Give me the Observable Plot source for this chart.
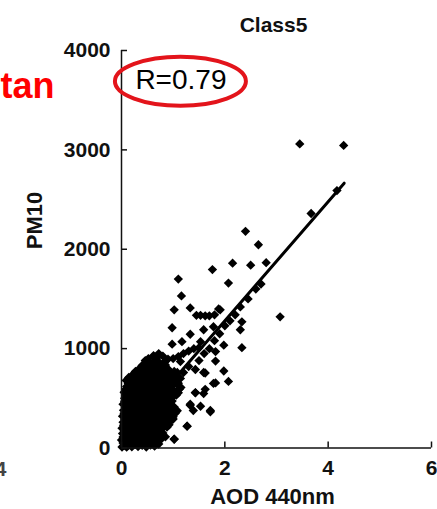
<!DOCTYPE html>
<html><head><meta charset="utf-8">
<script src="https://cdn.jsdelivr.net/npm/d3@7"></script>
<script src="https://cdn.jsdelivr.net/npm/@observablehq/plot@0.6"></script>
<style>body{margin:0;background:#fff}</style>
</head><body><div id="chart"></div>
<script>
const title = "Class5";
const xLabel = "AOD 440nm";
const yLabel = "PM10";
const rText = "R=0.79";
const sideText = "tan";
const sideTick = "4";
const xTicks = [0, 2, 4, 6];
const yTicks = [0, 1000, 2000, 3000, 4000];
const rAnchor = [[1.15, 3700]];
const fitLine = [[0.05, 110], [4.31, 2665]];

const cluster = [
  [0.01,10],[0.05,25],[0.1,8],[0.14,30],[0.2,12],[0.26,35],[0.32,15],[0.4,28],[0.48,10],[0.56,30],[0.64,18],[0.72,40],
  [0.0,80],[0.06,95],[0.12,70],[0.19,90],[0.25,75],[0.33,100],[0.41,80],[0.5,95],[0.58,70],[0.67,100],[0.76,85],[1.02,88],
  [0.02,145],[0.09,130],[0.16,160],[0.23,140],[0.3,155],[0.38,130],[0.46,150],[0.54,140],[0.62,160],[0.71,135],[0.8,150],
  [0.01,200],[0.07,215],[0.14,195],[0.21,220],[0.29,200],[0.36,215],[0.44,190],[0.52,210],[0.61,200],[0.7,220],[0.78,195],[0.88,210],[1.27,220],
  [0.03,260],[0.1,275],[0.17,255],[0.25,280],[0.33,260],[0.4,275],[0.49,255],[0.57,270],[0.66,260],[0.75,280],[0.84,255],[0.95,270],
  [0.02,320],[0.08,335],[0.15,315],[0.22,330],[0.3,310],[0.38,340],[0.46,320],[0.55,335],[0.63,315],[0.72,330],[0.81,320],[0.9,340],[1.0,315],
  [0.04,380],[0.11,395],[0.19,370],[0.27,390],[0.35,375],[0.43,400],[0.51,380],[0.6,395],[0.69,370],[0.78,390],[0.87,380],[0.97,395],[1.08,375],[1.39,377],[1.72,377],
  [0.03,440],[0.1,455],[0.17,430],[0.25,450],[0.33,435],[0.41,460],[0.5,440],[0.58,455],[0.67,430],[0.76,450],[0.85,440],[0.95,455],[1.33,430],
  [0.06,500],[0.13,515],[0.21,490],[0.29,510],[0.37,495],[0.45,520],[0.54,500],[0.63,510],[0.72,490],[0.81,515],[0.9,500],[1.0,520],
  [0.05,560],[0.12,575],[0.2,550],[0.28,570],[0.36,555],[0.44,580],[0.53,560],[0.62,575],[0.7,550],[0.8,570],[0.9,560],[1.02,575],[1.1,555],[1.43,558],[1.59,548],
  [0.1,620],[0.17,635],[0.25,610],[0.33,630],[0.41,615],[0.5,640],[0.59,620],[0.68,635],[0.77,610],[0.87,630],[0.97,620],[1.08,640],[1.15,610],
  [0.09,680],[0.18,690],[0.27,670],[0.36,695],[0.45,675],[0.55,700],[0.64,680],[0.74,690],[0.84,670],[0.94,695],[1.05,680],[1.14,700],[1.78,650],
  [0.22,740],[0.3,755],[0.39,735],[0.48,760],[0.57,740],[0.66,755],[0.76,730],[0.86,750],[0.97,740],[1.08,760],[1.59,760],
  [0.35,800],[0.43,815],[0.52,795],[0.61,820],[0.7,800],[0.8,815],[0.9,795],
  [0.46,880],[0.55,860],[0.64,875],[0.74,855],[0.84,870],
  [0.62,930],[0.72,950],[0.8,925]
];

const clusterFill = [
  [0.03,50],[0.12,55],[0.22,45],[0.35,55],[0.45,50],[0.6,52],[0.7,48],
  [0.03,110],[0.15,115],[0.28,105],[0.37,112],[0.45,108],[0.55,115],[0.63,110],[0.72,105],[0.85,112],
  [0.05,170],[0.12,175],[0.2,168],[0.34,172],[0.42,170],[0.5,178],[0.58,166],[0.67,174],[0.76,170],
  [0.04,230],[0.11,235],[0.18,228],[0.25,232],[0.32,230],[0.4,236],[0.48,226],[0.57,233],[0.65,230],[0.74,236],[0.83,228],[0.92,233],
  [0.06,290],[0.13,295],[0.21,286],[0.29,292],[0.36,290],[0.45,296],[0.53,288],[0.62,293],[0.7,290],[0.8,296],[0.9,288],[1.0,292],
  [0.05,350],[0.12,355],[0.19,348],[0.26,352],[0.34,350],[0.42,356],[0.5,346],[0.59,353],[0.68,350],[0.77,355],[0.86,348],[0.95,352],[1.04,350],
  [0.07,410],[0.14,415],[0.23,406],[0.31,412],[0.39,410],[0.47,416],[0.55,406],[0.64,412],[0.73,410],[0.82,415],[0.92,406],[1.02,412],
  [0.06,470],[0.14,475],[0.21,466],[0.29,472],[0.37,470],[0.45,476],[0.54,466],[0.62,472],[0.71,470],[0.8,476],[0.9,466],[0.98,472],
  [0.09,530],[0.17,535],[0.25,526],[0.33,532],[0.41,530],[0.49,536],[0.58,526],[0.67,532],[0.76,530],[0.85,536],[0.95,526],[1.06,532],
  [0.08,590],[0.16,595],[0.24,586],[0.32,592],[0.4,590],[0.48,596],[0.57,586],[0.66,592],[0.75,590],[0.85,596],[0.95,586],[1.12,592],
  [0.13,650],[0.22,655],[0.3,646],[0.38,652],[0.46,650],[0.55,656],[0.64,646],[0.73,652],[0.82,650],[0.92,656],[1.02,646],[1.1,652],
  [0.14,710],[0.23,715],[0.32,706],[0.41,712],[0.5,710],[0.6,716],[0.69,706],[0.79,712],[0.89,710],[1.0,716],[1.1,706],
  [0.27,770],[0.35,775],[0.44,766],[0.53,772],[0.62,770],[0.71,776],[0.81,766],[0.92,772],[1.02,770],
  [0.4,830],[0.48,835],[0.57,826],[0.66,832],[0.75,830],[0.85,836],
  [0.52,900],[0.68,905],[0.9,895]
];

const band = [
  [1.0,900],[1.1,920],[1.2,950],[1.3,975],[1.4,1000],[1.5,1010],
  [1.2,760],[1.3,820],[1.43,790],[1.5,880],[1.6,950],[1.7,1000],[1.8,1080],[1.9,1150],
  [2.0,1230],[2.1,1280],[2.2,1340],[2.3,1420],[2.45,1500],[2.6,1600],[2.7,1650]
];

const outliers = [
  [3.45,3060],[4.30,3045],[3.67,2360],[4.17,2590],[2.40,2180],[2.65,2045],[2.15,1860],[2.50,1840],
  [2.80,1865],[1.76,1795],[2.07,1660],[1.10,1700],[1.16,1530],[3.07,1320],[2.33,1270],[2.30,1190],
  [1.91,1390],[1.98,1035],[2.33,1010],[1.33,1410],[1.02,1390],[1.88,1400],[1.45,1335],[1.53,1335],
  [1.62,1330],[1.70,1330],[1.80,1340],[0.98,1210],[1.33,1145],[1.59,1190],[1.78,1220],[0.98,1045],
  [1.17,1070],[1.53,1070],[1.82,970],[1.14,870],[1.82,875],[1.62,755],[1.98,775],[2.07,670],
  [1.82,655],[1.62,590],[1.43,555],[1.33,440],[1.53,420],[1.72,365],[1.27,220],[1.02,90]
];

const points = [...cluster, ...clusterFill, ...band, ...outliers];

const redText = "#ff0000";
const redRing = "#e3141b";

const ellipseMark = (index, scales) => {
  const cx = scales.x(rAnchor[0][0]);
  const cy = scales.y(rAnchor[0][1]);
  return d3.create("svg:ellipse")
    .attr("cx", cx).attr("cy", cy + 1.5)
    .attr("rx", 65.5).attr("ry", 24.5)
    .attr("fill", "none").attr("stroke", redRing).attr("stroke-width", 4)
    .node();
};

const chart = Plot.plot({
  width: 437,
  height: 509,
  marginLeft: 121,
  marginRight: 6,
  marginTop: 50,
  marginBottom: 61.5,
  style: {fontFamily: "'Liberation Sans', Arial, sans-serif", fontSize: "21px", fontWeight: "bold", background: "#fff", overflow: "visible", color: "#111"},
  x: {domain: [0, 6], axis: null},
  y: {domain: [0, 4000], axis: null},
  marks: [
    Plot.dot(points, {x: d => d[0], y: d => d[1], symbol: "diamond2", r: 4.2, fill: "#000", stroke: "none"}),
    Plot.line(fitLine, {x: d => d[0], y: d => d[1], stroke: "#000", strokeWidth: 3}),
    Plot.ruleX([0], {stroke: "#111", strokeWidth: 1.5}),
    Plot.ruleY([0], {stroke: "#111", strokeWidth: 1.5}),
    Plot.axisX(xTicks, {anchor: "bottom", tickSize: -6, tickPadding: 18, tickFormat: d => String(d), strokeWidth: 1.5, fontSize: 21, fontWeight: "bold"}),
    Plot.axisY(yTicks, {anchor: "left", tickSize: -6, tickPadding: 17, tickFormat: d => String(d), strokeWidth: 1.5, fontSize: 21, fontWeight: "bold"}),
    Plot.text([xLabel], {text: d => d, frameAnchor: "bottom", lineAnchor: "bottom", dx: -4, dy: 56, fontSize: 22, fontWeight: "bold"}),
    Plot.text([yLabel], {text: d => d, frameAnchor: "left", rotate: -90, dx: -87, fontSize: 22, fontWeight: "bold"}),
    Plot.text([title], {text: d => d, frameAnchor: "top", lineAnchor: "bottom", dx: -3, dy: -18.5, fontSize: 21, fontWeight: "bold"}),
    Plot.text(rAnchor, {x: d => d[0], y: d => d[1], text: () => rText, textAnchor: "middle", fontSize: 28, fontWeight: "normal", fill: "#000"}),
    ellipseMark,
    Plot.text([sideText], {text: d => d, frameAnchor: "top-left", textAnchor: "end", lineAnchor: "bottom", dx: -67, dy: 47, fontSize: 36, fontWeight: "bold", fill: redText}),
    Plot.text([sideTick], {text: d => d, frameAnchor: "bottom-left", textAnchor: "end", lineAnchor: "top", dx: -115, dy: 13, fontSize: 21, fontWeight: "bold", fill: "#444"})
  ]
});
document.getElementById("chart").appendChild(chart);
</script>
</body></html>
